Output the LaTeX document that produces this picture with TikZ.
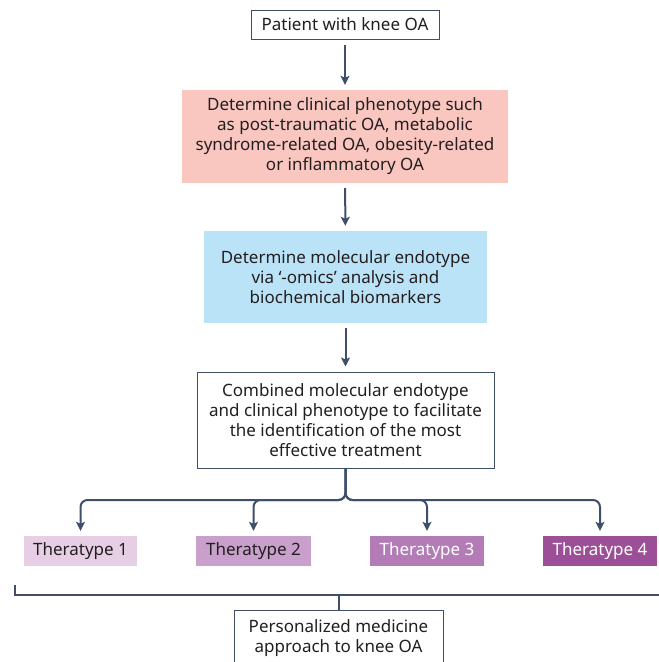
\documentclass[tikz,border=0pt]{standalone}
\usepackage{fontspec}
\setmainfont{Noto Sans}
\usetikzlibrary{arrows.meta,calc}
\definecolor{lineblue}{HTML}{3F4E6B}
\definecolor{pinkfill}{HTML}{F9C6C0}
\definecolor{bluefill}{HTML}{BBE3F8}
\definecolor{tA}{HTML}{E6CFE4}
\definecolor{tB}{HTML}{C9A0CB}
\definecolor{tC}{HTML}{B47CB6}
\definecolor{tD}{HTML}{9C4F97}
\definecolor{txt}{HTML}{231F20}
\tikzset{
  box/.style={draw=lineblue, line width=1pt, fill=white, align=center, inner sep=0pt, text=txt},
  fillbox/.style={align=center, inner sep=0pt, text=txt},
  tbox/.style={inner sep=0pt, minimum width=114pt, minimum height=30pt},
  arr/.style={draw=lineblue, line width=2pt, -{Stealth[length=9pt,width=9pt,inset=2pt]}, shorten >=5pt, shorten <=5pt},
  conn/.style={draw=lineblue, line width=2pt},
}
\begin{document}
\begin{tikzpicture}[x=1pt,y=-1pt, font=\fontsize{17}{20}\selectfont]
\useasboundingbox (0,0) rectangle (659,662);
\node[box, minimum width=188pt, minimum height=29pt] (n1) at (345,24.5) {Patient with knee OA};
\node[fillbox, fill=pinkfill, minimum width=326pt, minimum height=93pt] (n2) at (345,136.5)
  {Determine clinical phenotype such\\as post-traumatic OA, metabolic\\syndrome-related OA, obesity-related\\or inflammatory OA};
\node[fillbox, fill=bluefill, minimum width=283pt, minimum height=92pt] (n3) at (345.5,277)
  {Determine molecular endotype\\via ‘-omics’ analysis and\\biochemical biomarkers};
\node[box, minimum width=297pt, minimum height=96pt] (n4) at (345.5,420)
  {Combined molecular endotype\\and clinical phenotype to facilitate\\the identification of the most\\effective treatment};
\node[tbox, fill=tA, text=txt, minimum width=113pt] (t1) at (80.5,551) {Theratype 1};
\node[tbox, fill=tB, text=txt, minimum width=115pt] (t2) at (253.5,551) {Theratype 2};
\node[tbox, fill=tC, text=white] (t3) at (427,551) {Theratype 3};
\node[tbox, fill=tD, text=white] (t4) at (600,551) {Theratype 4};
\node[box, minimum width=209pt, minimum height=56pt, anchor=north] (p) at (338.5,610)
  {Personalized medicine\\approach to knee OA};
\draw[arr] (n1) -- (n2);
\draw[arr] (n2) -- (n3);
\draw[arr] (n3) -- (n4);
\coordinate (h) at (345,500);
\foreach \t in {t1,t2,t3,t4}
  \draw[conn, rounded corners=7pt, -{Stealth[length=9pt,width=9pt,inset=2pt]}, shorten >=5pt] (n4.south) |- (\t.north |- h) -- (\t.north);
\coordinate (bl) at (15,585);
\coordinate (brr) at (670,595);
\draw[conn] (bl) |- (brr);
\draw[conn] (p.north) -- (p.north |- brr);
\end{tikzpicture}
\end{document}
